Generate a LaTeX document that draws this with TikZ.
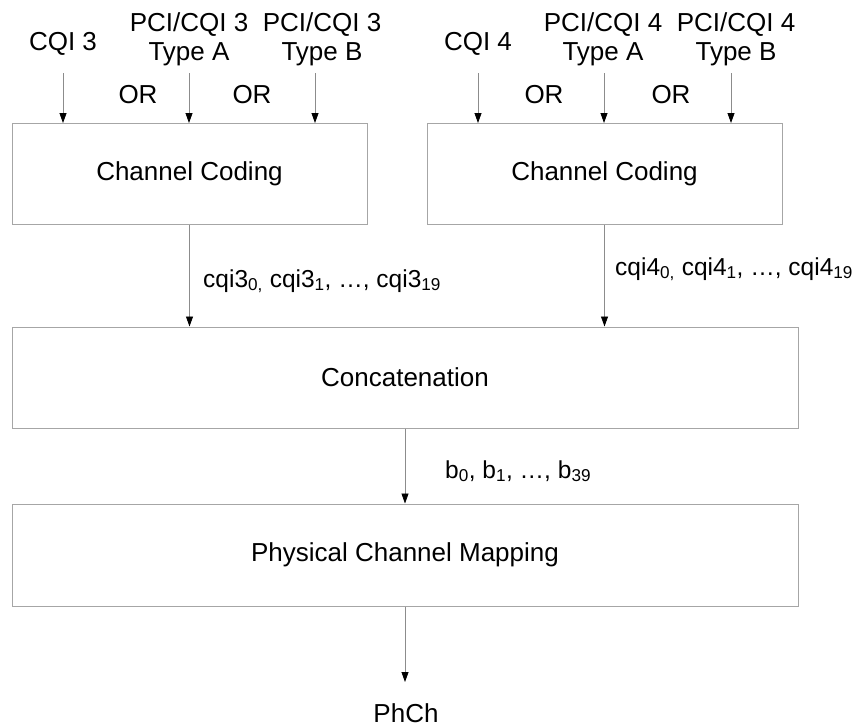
\documentclass[tikz,border=0pt]{standalone}
\usepackage{fontspec}
\setmainfont{Liberation Sans}
\usetikzlibrary{arrows.meta}
\begin{document}
\begin{tikzpicture}[x=1pt,y=-1pt,
  box/.style={draw=black!35, line width=1pt, minimum width=355pt, minimum height=101pt, inner sep=0pt, font=\fontsize{26}{30}\selectfont},
  arr/.style={draw=black!45, line width=0.8pt, -{Triangle[length=10pt,width=7pt,color=black]}},
  lbl/.style={font=\fontsize{26}{29.5}\selectfont, inner sep=0pt},
  sublbl/.style={font=\fontsize{24.5}{27}\selectfont, inner sep=0pt, anchor=base west}]
\useasboundingbox (0,0) rectangle (866,726);
% boxes
\node[box] (cc1) at (189.5,174) {Channel Coding};
\node[box] (cc2) at (604.5,174) {Channel Coding};
\node[box, minimum width=786pt] (cat) at (405,377.5) {Concatenation};
\node[box, minimum width=786pt, minimum height=102pt] (pcm) at (405,555) {Physical Channel Mapping};
% top labels
\node[lbl, anchor=base] (t1) at (63,50) {CQI 3};
\node[lbl, align=center, anchor=north] (t2) at (189,12) {PCI/CQI 3\\Type A};
\node[lbl, align=center, anchor=north] (t3) at (322,12) {PCI/CQI 3\\Type B};
\node[lbl, anchor=base] (u1) at (478,50) {CQI 4};
\node[lbl, align=center, anchor=north] (u2) at (603,12) {PCI/CQI 4\\Type A};
\node[lbl, align=center, anchor=north] (u3) at (736,12) {PCI/CQI 4\\Type B};
\node[lbl, anchor=base] (or1) at (138,103) {OR};
\node[lbl, anchor=base] (or2) at (252,103) {OR};
\node[lbl, anchor=base] (or3) at (544,103) {OR};
\node[lbl, anchor=base] (or4) at (671,103) {OR};
% input arrows
\coordinate (i1) at (63,73);
\coordinate (i2) at (189,73);
\coordinate (i3) at (315,73);
\coordinate (j1) at (478,73);
\coordinate (j2) at (604,73);
\coordinate (j3) at (731,73);
\foreach \c in {i1,i2,i3} \draw[arr] (\c) -- (\c |- cc1.north);
\foreach \c in {j1,j2,j3} \draw[arr] (\c) -- (\c |- cc2.north);
% inter-box arrows
\draw[arr] (cc1.south) -- (cc1.south |- cat.north);
\draw[arr] (cc2.south) -- (cc2.south |- cat.north);
\draw[arr] (cat.south) -- (pcm.north);
\coordinate (pend) at (405,682);
\draw[arr] (pcm.south) -- (pend);
% signal labels
\node[sublbl] (s1) at (203,287) {cqi3\textsubscript{0,} cqi3\textsubscript{1}, …, cqi3\textsubscript{19}};
\node[sublbl] (s2) at (615,275) {cqi4\textsubscript{0,} cqi4\textsubscript{1}, …, cqi4\textsubscript{19}};
\node[sublbl] (s3) at (445,478) {b\textsubscript{0}, b\textsubscript{1}, …, b\textsubscript{39}};
\node[lbl, anchor=base] (ph) at (406,722) {PhCh};
\end{tikzpicture}
\end{document}
